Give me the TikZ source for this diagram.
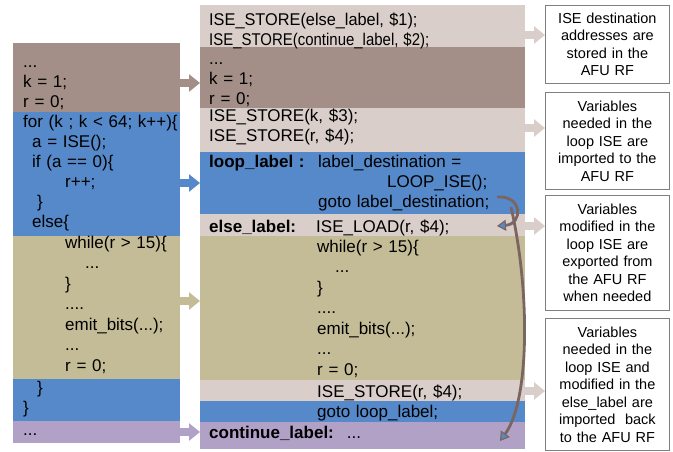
\documentclass[tikz,border=0pt]{standalone}
\usepackage{fontspec}
\setmainfont{Liberation Sans}
\usepackage{xcolor}
\usepackage{tikz}
\usetikzlibrary{arrows.meta}

\definecolor{cbrown}{HTML}{A38F87}
\definecolor{cblue}{HTML}{5589C9}
\definecolor{ctan}{HTML}{C4BC96}
\definecolor{clight}{HTML}{D9CEC9}
\definecolor{cpurple}{HTML}{B2A1C7}
\definecolor{cgrey}{HTML}{7F7F7F}
\definecolor{ccurve}{HTML}{7B6561}

\begin{document}
\begin{tikzpicture}[x=1pt, y=-1pt,
  band/.style={rectangle, anchor=north west, inner sep=0pt, minimum width=#1},
  code/.style={anchor=base west, inner sep=0pt, text width=300pt, align=left, font=\fontsize{17}{20}\selectfont},
  tancode/.style={code, font=\fontsize{17}{20.5}\selectfont},
  note/.style={rectangle, draw=cgrey, line width=0.8pt, anchor=north west, minimum width=124pt, text width=118pt, align=center, inner sep=0pt, font=\fontsize{14.5}{17.5}\selectfont},
  fat/.style={line width=8pt, -{Triangle[length=11pt, width=17pt]}},
  bendarrow/.style={draw=ccurve, line width=2.8pt, -{Triangle[length=9pt, width=11pt, fill=cblue, line width=1.2pt]}}]
\useasboundingbox (0, 0) rectangle (673, 451);

% original code
\node [band=167pt, fill=cbrown, minimum height=69pt] (L1) at (13, 43) {};
\node [band=167pt, fill=cblue, minimum height=124pt] (L2) at (13, 112) {};
\node [band=167pt, fill=ctan, minimum height=143pt] (L3) at (13, 236) {};
\node [band=167pt, fill=cblue, minimum height=42pt] (L4) at (13, 379) {};
\node [band=167pt, fill=cpurple, minimum height=22pt] (L5) at (13, 421) {};
\node [code] (L1t) at (23, 67) {...\\k = 1;\\r = 0;};
\node [code] (L2t) at (23, 127) {for (k ; k < 64; k++)\{\\\hspace*{9pt}a = ISE();\\\hspace*{9pt}if (a == 0)\{\\\hspace*{42pt}r++;\\\hspace*{14pt}\}\\\hspace*{9pt}else\{};
\node [tancode] (L3t) at (65, 248) {while(r > 15)\{\\\hspace*{20pt}...\\\}\\....\\emit\_bits(...);\\...\\r = 0;};
\node [code] (L4t) at (23, 393) {\hspace*{14pt}\}\\\}};
\node [code] (L5t) at (23, 435) {...};

% transformed code
\node [band=325pt, fill=clight, minimum height=42pt] (M1) at (200, 5) {};
\node [band=325pt, fill=cbrown, minimum height=61pt] (M2) at (200, 47) {};
\node [band=325pt, fill=clight, minimum height=44pt] (M3) at (200, 108) {};
\node [band=325pt, fill=cblue, minimum height=62pt] (M4) at (200, 152) {};
\node [band=325pt, fill=clight, minimum height=22pt] (M5) at (200, 214) {};
\node [band=325pt, fill=ctan, minimum height=144pt] (M6) at (200, 236) {};
\node [band=325pt, fill=clight, minimum height=21pt] (M7) at (200, 380) {};
\node [band=325pt, fill=cblue, minimum height=21pt] (M8) at (200, 401) {};
\node [band=325pt, fill=cpurple, minimum height=27pt] (M9) at (200, 422) {};
\node [code] (M1t) at (209, 25) {\scalebox{0.96}[1]{ISE\_STORE(else\_label, \$1);}\\\scalebox{0.88}[1]{ISE\_STORE(continue\_label, \$2);}};
\node [code] (M2t) at (209, 64) {...\\k = 1;\\r = 0;};
\node [code] (M3t) at (209, 121) {ISE\_STORE(k, \$3);\\ISE\_STORE(r, \$4);};
\node [code] (M4t) at (209, 167) {\makebox[109pt][l]{\bfseries loop\_label :}label\_destination =\\\hspace*{178pt}LOOP\_ISE();\\\hspace*{109pt}goto label\_destination;};
\node [code] (M5t) at (209, 232) {\makebox[107pt][l]{\bfseries else\_label:}ISE\_LOAD(r, \$4);};
\node [tancode] (M6t) at (317, 252) {while(r > 15)\{\\\hspace*{18pt}...\\\}\\....\\emit\_bits(...);\\...\\r = 0;};
\node [code] (M7t) at (317, 397) {ISE\_STORE(r, \$4);};
\node [code] (M8t) at (317, 417) {goto loop\_label;};
\node [code] (M9t) at (209, 438) {\textbf{continue\_label:}\hspace{13pt}...};

% notes
\node [note, minimum height=78pt] (B1) at (545, 5) {ISE destination\\addresses are\\stored in the\\AFU RF};
\node [note, minimum height=97pt] (B2) at (545, 92) {Variables\\needed in the\\loop ISE are\\imported to the\\AFU RF};
\node [note, minimum height=115pt] (B3) at (545, 195) {Variables\\modified in the\\loop ISE are\\exported from\\the AFU RF\\when needed};
\node [note, minimum height=132pt] (B4) at (545, 318) {Variables\\needed in the\\loop ISE and\\modified in the\\else\_label are\\imported\ \ back\\to the AFU RF};

\coordinate (yBrown) at (0, 83);
\coordinate (yLoop) at (0, 183);
\coordinate (yElse) at (0, 301);
\coordinate (yCont) at (0, 432);
\coordinate (yStoreA) at (0, 35);
\coordinate (yStoreB) at (0, 128);
\coordinate (yLoad) at (0, 226);
\coordinate (yStoreC) at (0, 391);

\draw [fat, draw=cbrown] (L1.east |- yBrown) -- (M2.west |- yBrown);
\draw [fat, draw=cblue] (L2.east |- yLoop) -- (M4.west |- yLoop);
\draw [fat, draw=ctan] (L3.east |- yElse) -- (M6.west |- yElse);
\draw [fat, draw=cpurple] (L5.east |- yCont) -- (M9.west |- yCont);
\draw [fat, draw=clight] (M1.east |- yStoreA) -- (B1.west |- yStoreA);
\draw [fat, draw=clight] (M3.east |- yStoreB) -- (B2.west |- yStoreB);
\draw [fat, draw=clight] (M5.east |- yLoad) -- (B3.west |- yLoad);
\draw [fat, draw=clight] (M7.east |- yStoreC) -- (B4.west |- yStoreC);

% jumps
\coordinate (gotoEnd) at (497, 197);
\coordinate (elseEnd) at (497, 226);
\coordinate (branch) at (511, 207);
\coordinate (contEnd) at (500, 441);
\draw [bendarrow] (gotoEnd) .. controls (523, 195) and (523, 224) .. (elseEnd);
\draw [bendarrow] (branch) .. controls (530, 290) and (530, 400) .. (contEnd);
\end{tikzpicture}
\end{document}
